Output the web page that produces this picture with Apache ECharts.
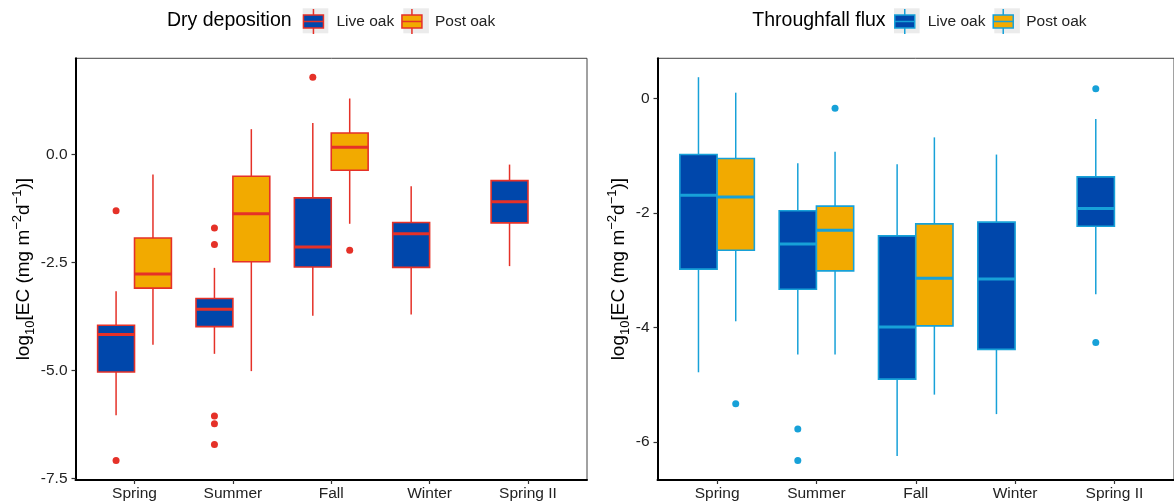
<!DOCTYPE html>
<html>
<head>
<meta charset="utf-8">
<script src="https://cdn.jsdelivr.net/npm/echarts@6/dist/echarts.min.js"></script>
<style>
html,body{margin:0;padding:0;background:#fff;}
#chart{width:1174px;height:502px;}
</style>
</head>
<body>
<div id="chart"></div>
<script>
// ---------- data ----------
const categories = ['Spring', 'Summer', 'Fall', 'Winter', 'Spring II'];
const seriesNames = ['Live oak', 'Post oak'];

// [min whisker, Q1, median, Q3, max whisker]
const dryLive = [
  [-6.03, -5.03, -4.16, -3.95, -3.16],
  [-4.61, -3.98, -3.58, -3.33, -2.62],
  [-3.73, -2.60, -2.14, -1.00, 0.73],
  [-3.70, -2.61, -1.83, -1.57, -0.73],
  [-2.58, -1.58, -1.09, -0.60, -0.23]
];
const dryPost = [
  [-4.40, -3.09, -2.76, -1.93, -0.46],
  [-5.01, -2.48, -1.37, -0.50, 0.59],
  [-1.60, -0.36, 0.17, 0.50, 1.30],
  null,
  null
];
const dryLiveOutliers = [['Spring', -1.30], ['Spring', -7.08], ['Summer', -1.70], ['Summer', -2.08],
  ['Summer', -6.05], ['Summer', -6.23], ['Summer', -6.71], ['Fall', 1.79]];
const dryPostOutliers = [['Fall', -2.21]];

const tfLive = [
  [-4.78, -2.98, -1.69, -0.98, 0.37],
  [-4.47, -3.33, -2.54, -1.96, -1.13],
  [-6.24, -4.90, -3.99, -2.40, -1.15],
  [-5.51, -4.38, -3.15, -2.16, -0.98],
  [-3.42, -2.23, -1.92, -1.37, -0.36]
];
const tfPost = [
  [-3.89, -2.65, -1.72, -1.05, 0.10],
  [-4.47, -3.01, -2.30, -1.88, -0.93],
  [-5.17, -3.97, -3.14, -2.19, -0.68],
  null,
  null
];
const tfLiveOutliers = [['Summer', -5.77], ['Summer', -6.32], ['Spring II', 0.17], ['Spring II', -4.26]];
const tfPostOutliers = [['Spring', -5.33], ['Summer', -0.17]];

const dryTicks = [-7.5, -5.0, -2.5, 0.0];
const tfTicks = [-6, -4, -2, 0];

// ---------- style ----------
const FONT = '"Liberation Sans", Arial, sans-serif';
const BLUE = '#0047AB';
const ORANGE = '#F2AA00';
const RED = '#E53128';
const CYAN = '#17A1D8';
const BOX_W = 0.375;           // box width in category units
const DODGE = BOX_W / 2;       // dodge offset
const catIdx = categories.map((c, i) => i);

function boxSeries(name, rows, offset, fill, stroke, axis) {
  const data = [];
  rows.forEach((r, i) => { if (r) data.push([i + offset].concat(r)); });
  return {
    type: 'custom', name: name, xAxisIndex: axis, yAxisIndex: axis,
    encode: { x: 0, y: [1, 2, 3, 4, 5] },
    data: data,
    z: 2,
    renderItem: function (params, api) {
      const x = api.value(0);
      const lo = api.coord([x, api.value(1)]);
      const q1 = api.coord([x, api.value(2)]);
      const md = api.coord([x, api.value(3)]);
      const q3 = api.coord([x, api.value(4)]);
      const hi = api.coord([x, api.value(5)]);
      const w = api.size([BOX_W, 0])[0];
      const cx = lo[0];
      const ls = { stroke: stroke, lineWidth: 1.5 };
      return {
        type: 'group',
        children: [
          { type: 'line', shape: { x1: cx, y1: lo[1], x2: cx, y2: q1[1] }, style: ls },
          { type: 'line', shape: { x1: cx, y1: q3[1], x2: cx, y2: hi[1] }, style: ls },
          { type: 'rect', shape: { x: cx - w / 2, y: q3[1], width: w, height: q1[1] - q3[1] },
            style: { fill: fill, stroke: stroke, lineWidth: 1.6 } },
          { type: 'line', shape: { x1: cx - w / 2, y1: md[1], x2: cx + w / 2, y2: md[1] },
            style: { stroke: stroke, lineWidth: 3 } }
        ]
      };
    }
  };
}

function outlierSeries(name, pts, offset, color, axis) {
  return {
    type: 'scatter', name: name, xAxisIndex: axis, yAxisIndex: axis,
    symbol: 'circle', symbolSize: 7, z: 3,
    itemStyle: { color: color, opacity: 1 },
    data: pts.map(p => [categories.indexOf(p[0]) + offset, p[1]])
  };
}

function xAxis(grid) {
  return {
    type: 'value', gridIndex: grid, min: -0.6, max: 4.6,
    axisLine: { show: true, onZero: false, lineStyle: { color: '#000', width: 2 } },
    axisTick: { show: true, customValues: catIdx, length: 4, lineStyle: { color: '#333', width: 1.2 } },
    axisLabel: { customValues: catIdx, formatter: v => categories[Math.round(v)], fontSize: 15.5,
      color: '#222', margin: 6, fontFamily: FONT },
    splitLine: { show: false }
  };
}

const yName = '{a|log}{s|10}{a|[EC (mg m}{p|\u22122}{a|d}{p|\u22121}{a|)]}';
const nameRich = {
  a: { fontSize: 19, lineHeight: 26, color: '#000', fontFamily: FONT },
  s: { fontSize: 13, lineHeight: 13, verticalAlign: 'bottom', color: '#000', fontFamily: FONT },
  p: { fontSize: 13, lineHeight: 18, verticalAlign: 'top', color: '#000', fontFamily: FONT }
};

function yAxis(grid, min, max, ticks, fmt, gap) {
  return {
    type: 'value', gridIndex: grid, min: min, max: max,
    axisLine: { show: true, onZero: false, lineStyle: { color: '#000', width: 2 } },
    axisTick: { show: true, customValues: ticks, length: 4, lineStyle: { color: '#333', width: 1.2 } },
    axisLabel: { customValues: ticks, formatter: fmt, fontSize: 15.5, color: '#222', margin: 8, fontFamily: FONT },
    splitLine: { show: false },
    name: yName, nameLocation: 'middle', nameRotate: 90, nameGap: gap,
    nameTextStyle: { rich: nameRich }
  };
}

function keyIcon() {
  return 'path://M0,6 L20,6 L20,19 L0,19 Z M0,12.5 L20,12.5 M10,0 L10,6 M10,19 L10,25';
}

function legend(left, stroke) {
  return {
    left: left, top: 8.3, padding: 0, itemWidth: 26, itemHeight: 25, itemGap: 7,
    selectedMode: false,
    textStyle: { fontSize: 15.5, color: '#222', fontFamily: FONT, padding: [0, 0, 0, 5] },
    data: [
      { name: seriesNames[0], icon: keyIcon(), itemStyle: { color: BLUE, borderColor: stroke, borderWidth: 1.5 } },
      { name: seriesNames[1], icon: keyIcon(), itemStyle: { color: ORANGE, borderColor: stroke, borderWidth: 1.5 } }
    ]
  };
}

function keyBg(x) {
  return { type: 'rect', left: x, top: 8.3, z: -1, shape: { width: 25.6, height: 25 }, style: { fill: '#EBEBEB' } };
}

const option = {
  animation: false,
  textStyle: { fontFamily: FONT },
  title: [
    { text: 'Dry deposition', left: 167, top: 10.5, padding: 0,
      textStyle: { fontSize: 19.5, fontWeight: 'normal', color: '#000', fontFamily: FONT } },
    { text: 'Throughfall flux', left: 752.3, top: 10.5, padding: 0,
      textStyle: { fontSize: 19.5, fontWeight: 'normal', color: '#000', fontFamily: FONT } }
  ],
  legend: [legend(302.7, RED), legend(894, CYAN)],
  graphic: [keyBg(302.7), keyBg(403.3), keyBg(894), keyBg(994.3)],
  grid: [
    { left: 75.5, top: 58.3, width: 511.5, height: 421.7, show: true, borderColor: '#444', borderWidth: 1, backgroundColor: 'transparent' },
    { left: 657.5, top: 58.3, width: 524.2, height: 421.7, show: true, borderColor: '#444', borderWidth: 1, backgroundColor: 'transparent' }
  ],
  xAxis: [xAxis(0), xAxis(1)],
  yAxis: [
    yAxis(0, -7.53, 2.23, dryTicks, v => v.toFixed(1), 38),
    yAxis(1, -6.66, 0.70, tfTicks, v => String(Math.round(v)), 25.5)
  ],
  series: [
    boxSeries(seriesNames[0], dryLive, -DODGE, BLUE, RED, 0),
    boxSeries(seriesNames[1], dryPost, DODGE, ORANGE, RED, 0),
    outlierSeries(seriesNames[0], dryLiveOutliers, -DODGE, RED, 0),
    outlierSeries(seriesNames[1], dryPostOutliers, DODGE, RED, 0),
    boxSeries(seriesNames[0], tfLive, -DODGE, BLUE, CYAN, 1),
    boxSeries(seriesNames[1], tfPost, DODGE, ORANGE, CYAN, 1),
    outlierSeries(seriesNames[0], tfLiveOutliers, -DODGE, CYAN, 1),
    outlierSeries(seriesNames[1], tfPostOutliers, DODGE, CYAN, 1)
  ]
};

const chart = echarts.init(document.getElementById('chart'), null, { renderer: 'canvas' });
chart.setOption(option);
</script>
</body>
</html>
